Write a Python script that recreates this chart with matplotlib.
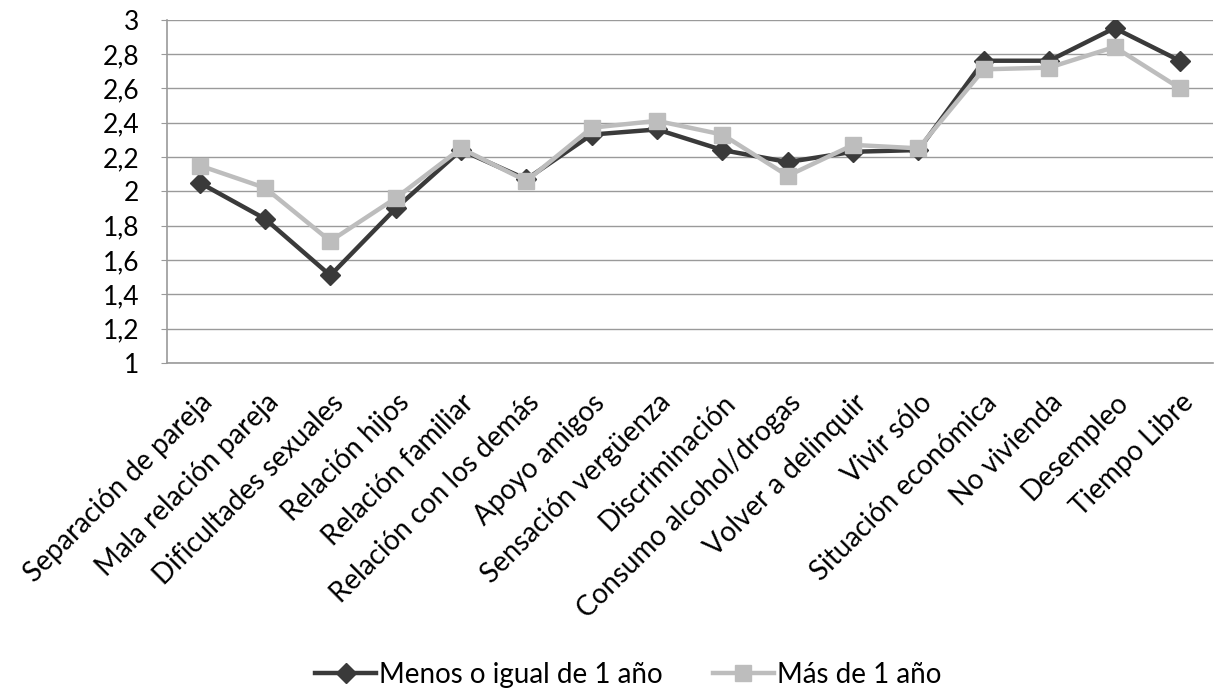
import matplotlib.pyplot as plt
from matplotlib.ticker import FuncFormatter

categorias = ['Separación de pareja', 'Mala relación pareja', 'Dificultades sexuales',
              'Relación hijos', 'Relación familiar', 'Relación con los demás',
              'Apoyo amigos', 'Sensación vergüenza', 'Discriminación',
              'Consumo alcohol/drogas', 'Volver a delinquir', 'Vivir sólo',
              'Situación económica', 'No vivienda', 'Desempleo', 'Tiempo Libre']

menos_1 = [2.05, 1.84, 1.51, 1.90, 2.24, 2.07, 2.33, 2.36, 2.24, 2.17, 2.23, 2.24,
           2.76, 2.76, 2.95, 2.76]
mas_1 = [2.15, 2.02, 1.71, 1.96, 2.25, 2.06, 2.37, 2.41, 2.33, 2.09, 2.27, 2.25,
         2.71, 2.72, 2.84, 2.60]

etiquetas = ['Menos o igual de 1 año', 'Más de 1 año']
yticks = [1, 1.2, 1.4, 1.6, 1.8, 2, 2.2, 2.4, 2.6, 2.8, 3]

plt.rcParams['font.family'] = ['Lato', 'DejaVu Sans']

fig = plt.figure(figsize=(12.15, 6.92), dpi=100)
ax = fig.add_axes([0.1374, 0.4754, 0.8606, 0.4964])

x = list(range(len(categorias)))
ax.plot(x, menos_1, color='#3a3a3a', lw=3.2, marker='D', ms=10.5,
        markeredgecolor='#3a3a3a', label=etiquetas[0], zorder=3)
ax.plot(x, mas_1, color='#bdbdbd', lw=3.2, marker='s', ms=12,
        markeredgecolor='#bdbdbd', label=etiquetas[1], zorder=4)

ax.set_xlim(-0.5, len(categorias) - 0.5)
ax.set_ylim(1, 3)
ax.set_yticks(yticks)
ax.yaxis.set_major_formatter(FuncFormatter(lambda v, p: ('%g' % v).replace('.', ',')))
ax.grid(axis='y', color='#9a9a9a', lw=1)
ax.set_axisbelow(True)

for s in ['top', 'right']:
    ax.spines[s].set_visible(False)
for s in ['left', 'bottom']:
    ax.spines[s].set_color('#9a9a9a')
    ax.spines[s].set_linewidth(1.2)

ax.tick_params(axis='y', length=4, color='#9a9a9a', labelsize=19, pad=16)
ax.tick_params(axis='x', length=0, pad=19)
ax.set_xticks(x)
ax.set_xticklabels(categorias, rotation=45, ha='right', va='top',
                   rotation_mode='anchor', fontsize=20)

fig.legend(loc='center', bbox_to_anchor=(0.517, 0.025), ncol=2, frameon=False,
           fontsize=20, handlelength=2.2, columnspacing=1.8, handletextpad=0.1)

fig.savefig('out.png', dpi=100)
